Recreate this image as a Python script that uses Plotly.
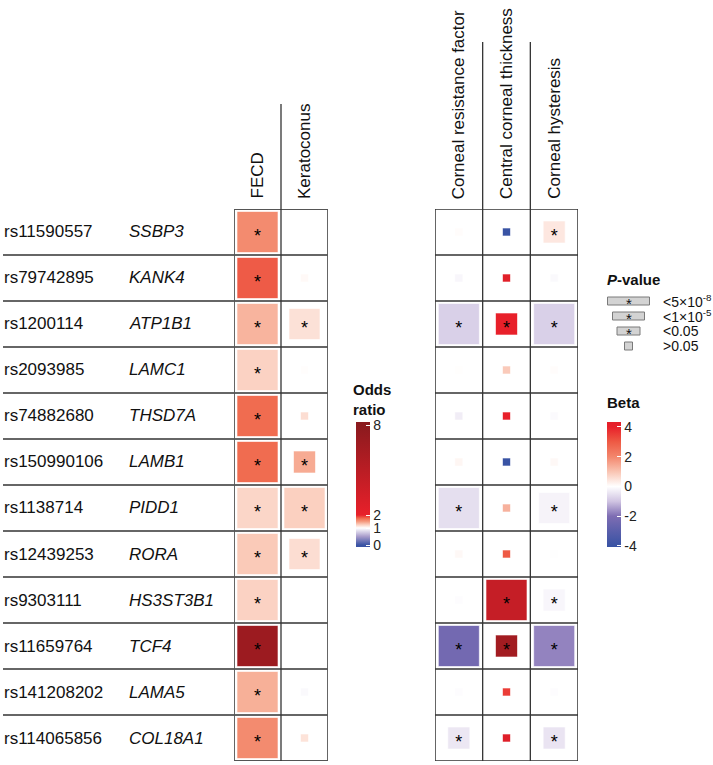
import numpy as np
import plotly.graph_objects as go

# ---------------- data ----------------
SNPS = ["rs11590557", "rs79742895", "rs1200114", "rs2093985", "rs74882680", "rs150990106",
        "rs1138714", "rs12439253", "rs9303111", "rs11659764", "rs141208202", "rs114065856"]
GENES = ["SSBP3", "KANK4", "ATP1B1", "LAMC1", "THSD7A", "LAMB1",
         "PIDD1", "RORA", "HS3ST3B1", "TCF4", "LAMA5", "COL18A1"]

LEFT_TRAITS = ["FECD", "Keratoconus"]
RIGHT_TRAITS = ["Corneal resistance factor", "Central corneal thickness", "Corneal hysteresis"]

# odds ratios (left panel); p-value class: 0 <5e-8, 1 <1e-5, 2 <0.05, 3 >0.05
OR_FECD = [1.58, 1.80, 1.38, 1.24, 1.74, 1.74, 1.22, 1.28, 1.24, 6.9, 1.40, 1.58]
P_FECD = [0, 0, 0, 0, 0, 0, 0, 0, 0, 0, 0, 0]
OR_KC = [None, 1.03, 1.16, 1.01, 1.18, 1.42, 1.25, 1.18, None, None, 0.97, 1.15]
P_KC = [None, 3, 1, 3, 3, 2, 0, 1, None, None, 3, 3]

# betas (right panel)
BETA_CRF = [0.05, -0.15, -0.8, 0.02, -0.3, 0.15, -0.55, 0.12, -0.05, -2.3, -0.05, -0.4]
P_CRF = [3, 3, 0, 3, 3, 3, 0, 3, 3, 0, 3, 2]
BETA_CCT = [-4.0, 4.3, 4.0, 0.9, 4.0, -4.0, 1.3, 3.0, 5.5, 7.0, 3.5, 4.4]
P_CCT = [3, 3, 2, 3, 3, 3, 3, 3, 0, 2, 3, 3]
BETA_CH = [0.4, -0.1, -0.8, 0.05, -0.08, 0.12, -0.2, -0.02, -0.15, -1.75, -0.05, -0.45]
P_CH = [2, 3, 0, 3, 3, 3, 1, 3, 2, 0, 3, 2]

P_LABELS = ["&lt;5×10<sup>-8</sup>", "&lt;1×10<sup>-5</sup>", "&lt;0.05", "&gt;0.05"]
OR_TICKS = [0, 1, 2, 8]
BETA_TICKS = [-4, -2, 0, 2, 4]

# ---------------- style ----------------
W, H = 713, 765
FONT = "Liberation Sans, Arial, sans-serif"
SQ = [42, 32, 23, 9]          # square side (px) per p-value class
STAR_SIZE = 18
STAR_DY = 0.13
GRID_TOP, GRID_BOT = 209, 761
LX0, LX1 = 234, 328
RX0, RX1 = 435, 578
LINE = "#333333"


def px_x(p):
    return p / W


def px_y(p):
    return 1 - p / H


# odds-ratio colour bar is piecewise (0-1, 1-2, 2-8)
OR_KNOTS = [0, 1, 2, 8]
T_KNOTS = [0, 17, 30, 120]
T_MIN, T_MAX = -2, 123


def or_t(v):
    return float(np.interp(v, OR_KNOTS, T_KNOTS))


OR_STOPS = [(0, "#3a53a4"), (0.5, "#a89ccb"), (1, "#ffffff"), (1.25, "#fbd0c0"),
            (1.5, "#f59a7e"), (1.75, "#f06a4e"), (2, "#e8202a"), (8, "#8b1a1e")]
or_scale = [[0, "#3a53a4"]] + [[(or_t(v) - T_MIN) / (T_MAX - T_MIN), c] for v, c in OR_STOPS] + [[1, "#8b1a1e"]]

B_STOPS = [(-4, "#3953a4"), (-3, "#5a5fab"), (-2, "#7e6db3"), (-1, "#d0c4e2"), (0, "#ffffff"),
           (1, "#f9c4b2"), (2, "#f3866c"), (3, "#ee5a44"), (4, "#e8202a"), (8, "#8b1a1e")]
B_MIN, B_MAX_BAR, B_MAX_EXT = -4.07, 4.33, 8.0


def make_scale(stops, lo, hi, top_color):
    out = [[0, stops[0][1]]]
    for v, c in stops:
        if lo < v < hi:
            out.append([(v - lo) / (hi - lo), c])
    out.append([1, top_color])
    return out


beta_ext = make_scale(B_STOPS, B_MIN, B_MAX_EXT, "#8b1a1e")
beta_bar = make_scale(B_STOPS, B_MIN, B_MAX_BAR, "#e41f29")

fig = go.Figure()


def add_panel(cols, pcols, xaxis, coloraxis, transform):
    xs, ys, cs, ss = [], [], [], []
    sx, sy = [], []
    for ci, (vals, ps) in enumerate(zip(cols, pcols)):
        for ri, (v, p) in enumerate(zip(vals, ps)):
            if v is None:
                continue
            xs.append(ci)
            ys.append(ri)
            cs.append(transform(v))
            ss.append(SQ[p] - 1)
            if p < 3:
                sx.append(ci)
                sy.append(ri + STAR_DY)
    fig.add_trace(go.Scatter(
        x=xs, y=ys, xaxis=xaxis, yaxis="y", mode="markers",
        marker=dict(symbol="square", size=ss, color=cs, coloraxis=coloraxis, opacity=1,
                    line=dict(width=1, color="rgba(255,255,255,0.6)")),
        hoverinfo="skip", showlegend=False))
    fig.add_trace(go.Scatter(
        x=sx, y=sy, xaxis=xaxis, yaxis="y", mode="text", text=["*"] * len(sx),
        textposition="middle center", textfont=dict(size=STAR_SIZE, color="black", family=FONT),
        hoverinfo="skip", showlegend=False))


add_panel([OR_FECD, OR_KC], [P_FECD, P_KC], "x", "coloraxis", or_t)
add_panel([BETA_CRF, BETA_CCT, BETA_CH], [P_CRF, P_CCT, P_CH], "x2", "coloraxis2", lambda v: v)

# invisible trace carrying the beta colour bar
fig.add_trace(go.Scatter(x=[0], y=[0], xaxis="x2", yaxis="y", mode="markers",
                         marker=dict(color=[0], coloraxis="coloraxis3", size=1, opacity=0),
                         hoverinfo="skip", showlegend=False))

shapes = []
n = len(SNPS)
for b in range(1, n):
    shapes.append(dict(type="line", xref="paper", yref="y", x0=px_x(3), x1=px_x(LX1),
                       y0=b - 0.5, y1=b - 0.5, line=dict(color=LINE, width=1.3)))
    shapes.append(dict(type="line", xref="x2", yref="y", x0=-0.5, x1=len(RIGHT_TRAITS) - 0.5,
                       y0=b - 0.5, y1=b - 0.5, line=dict(color=LINE, width=1.3)))
shapes.append(dict(type="rect", xref="x", yref="y", x0=-0.5, x1=len(LEFT_TRAITS) - 0.5,
                   y0=-0.5, y1=n - 0.5, line=dict(color="#555555", width=1.8)))
shapes.append(dict(type="rect", xref="x2", yref="y", x0=-0.5, x1=len(RIGHT_TRAITS) - 0.5,
                   y0=-0.5, y1=n - 0.5, line=dict(color=LINE, width=1.5)))
for k in range(1, len(LEFT_TRAITS)):
    shapes.append(dict(type="line", xref="x", yref="paper", x0=k - 0.5, x1=k - 0.5,
                       y0=px_y(GRID_BOT), y1=px_y(104), line=dict(color=LINE, width=1.3)))
for k in range(1, len(RIGHT_TRAITS)):
    shapes.append(dict(type="line", xref="x2", yref="paper", x0=k - 0.5, x1=k - 0.5,
                       y0=px_y(GRID_BOT), y1=px_y(42), line=dict(color=LINE, width=1.3)))

annotations = []
for ri, (s, g) in enumerate(zip(SNPS, GENES)):
    annotations.append(dict(x=px_x(2), xref="paper", y=ri, yref="y", text=s, showarrow=False,
                            xanchor="left", yanchor="middle", font=dict(size=17, family=FONT, color="#111")))
    annotations.append(dict(x=px_x(127), xref="paper", y=ri, yref="y", text=f"<i>{g}</i>", showarrow=False,
                            xanchor="left", yanchor="middle", font=dict(size=17, family=FONT, color="#111")))
for ci, t in enumerate(LEFT_TRAITS):
    annotations.append(dict(x=ci, xref="x", y=px_y(201), yref="paper", text=t, textangle=-90,
                            showarrow=False, xanchor="center", yanchor="bottom",
                            font=dict(size=17, family=FONT, color="#111")))
for ci, t in enumerate(RIGHT_TRAITS):
    annotations.append(dict(x=ci, xref="x2", y=px_y(201), yref="paper", text=t, textangle=-90,
                            showarrow=False, xanchor="center", yanchor="bottom",
                            font=dict(size=17, family=FONT, color="#111")))

# colour bar titles
annotations.append(dict(x=px_x(351), xref="paper", y=px_y(399), yref="paper", text="<b>Odds<br>ratio</b>",
                        showarrow=False, xanchor="left", yanchor="middle", align="left",
                        font=dict(size=15, family=FONT, color="#111")))
annotations.append(dict(x=px_x(605), xref="paper", y=px_y(402), yref="paper", text="<b>Beta</b>",
                        showarrow=False, xanchor="left", yanchor="middle",
                        font=dict(size=15, family=FONT, color="#111")))

# P-value legend
annotations.append(dict(x=px_x(605), xref="paper", y=px_y(279), yref="paper", text="<b><i>P</i>-value</b>",
                        showarrow=False, xanchor="left", yanchor="middle",
                        font=dict(size=15, family=FONT, color="#111")))
LEG_CX, LEG_Y0, LEG_DY, LEG_H = 628.5, 301, 15, 8
for k, (s, lab) in enumerate(zip(SQ, P_LABELS)):
    cy = LEG_Y0 + k * LEG_DY
    w = s if k < 3 else LEG_H
    shapes.append(dict(type="rect", xref="paper", yref="paper",
                       x0=px_x(LEG_CX - w / 2), x1=px_x(LEG_CX + w / 2),
                       y0=px_y(cy + LEG_H / 2), y1=px_y(cy - LEG_H / 2),
                       fillcolor="#d3d3d3", line=dict(color="#7a7a7a", width=1)))
    if k < 3:
        annotations.append(dict(x=px_x(LEG_CX), xref="paper", y=px_y(cy + 2.5), yref="paper", text="*",
                                showarrow=False, xanchor="center", yanchor="middle",
                                font=dict(size=15, family=FONT, color="#111")))
    annotations.append(dict(x=px_x(661), xref="paper", y=px_y(cy), yref="paper", text=lab,
                            showarrow=False, xanchor="left", yanchor="middle",
                            font=dict(size=14, family=FONT, color="#111")))


def cbar(x_px, tickvals, ticktext):
    return dict(x=px_x(x_px), xanchor="left", y=px_y(547), yanchor="bottom",
                lenmode="pixels", len=125, thicknessmode="pixels", thickness=14,
                xpad=0, ypad=0, outlinewidth=0, tickvals=tickvals, ticktext=ticktext,
                ticks="inside", ticklen=4, tickcolor="white", tickwidth=1,
                tickfont=dict(size=14, family=FONT, color="#222"), title=dict(text=""))


fig.update_layout(
    width=W, height=H, margin=dict(l=0, r=0, t=0, b=0),
    paper_bgcolor="white", plot_bgcolor="white", showlegend=False,
    xaxis=dict(domain=[px_x(LX0), px_x(LX1)], range=[-0.5, len(LEFT_TRAITS) - 0.5], visible=False),
    xaxis2=dict(domain=[px_x(RX0), px_x(RX1)], range=[-0.5, len(RIGHT_TRAITS) - 0.5], visible=False,
                anchor="y"),
    yaxis=dict(domain=[px_y(GRID_BOT), px_y(GRID_TOP)], range=[n - 0.5, -0.5], visible=False),
    coloraxis=dict(colorscale=or_scale, cmin=T_MIN, cmax=T_MAX,
                   colorbar=cbar(356, [or_t(v) for v in OR_TICKS], [str(v) for v in OR_TICKS])),
    coloraxis2=dict(colorscale=beta_ext, cmin=B_MIN, cmax=B_MAX_EXT, showscale=False),
    coloraxis3=dict(colorscale=beta_bar, cmin=B_MIN, cmax=B_MAX_BAR,
                    colorbar=cbar(607, BETA_TICKS, [str(v) for v in BETA_TICKS])),
    shapes=shapes, annotations=annotations,
)

fig.write_html("out.html", config={"displayModeBar": False},
               post_script="document.body.style.margin='0px';document.body.style.overflow='hidden';")
